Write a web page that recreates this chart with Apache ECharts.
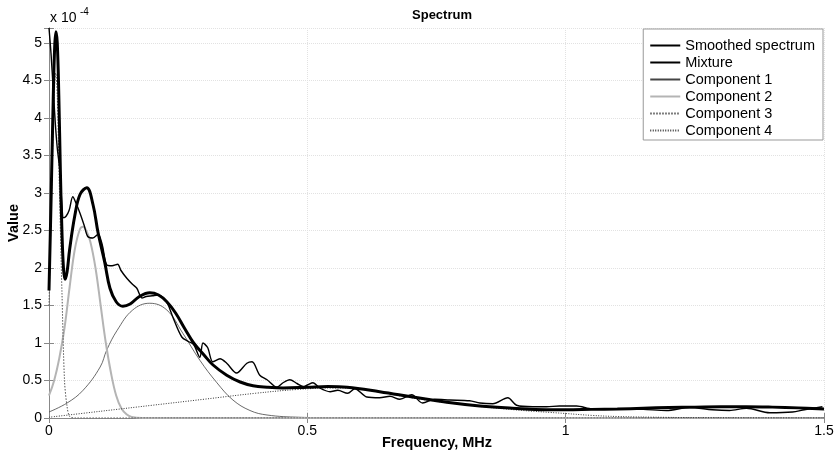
<!DOCTYPE html>
<html>
<head>
<meta charset="utf-8">
<script src="https://cdn.jsdelivr.net/npm/echarts@6/dist/echarts.min.js"></script>
<style>html,body{margin:0;padding:0;background:#fff}#c{width:840px;height:456px}</style>
</head>
<body>
<div id="c"></div>
<script>
// Values in units of 1e-4, x in MHz
const seriesNames = ['Smoothed spectrum', 'Mixture', 'Component 1', 'Component 2', 'Component 3', 'Component 4'];
const xTicks = [0, 0.5, 1, 1.5];
const yTicks = [0, 0.5, 1, 1.5, 2, 2.5, 3, 3.5, 4, 4.5, 5];

const smoothed = [[0,5.2],[0.004,4.85],[0.008,4.4],[0.012,3.95],[0.016,3.6],[0.021,3.3],[0.025,2.84],[0.028,2.67],[0.033,2.69],[0.039,2.77],[0.046,2.95],[0.052,2.87],[0.060,2.73],[0.068,2.57],[0.075,2.42],[0.085,2.40],[0.095,2.45],[0.103,2.31],[0.112,2.04],[0.122,2.03],[0.133,2.05],[0.139,1.97],[0.151,1.86],[0.162,1.78],[0.170,1.73],[0.180,1.60],[0.188,1.62],[0.200,1.63],[0.211,1.64],[0.222,1.60],[0.230,1.52],[0.240,1.34],[0.257,1.08],[0.270,1.02],[0.280,0.98],[0.292,0.81],[0.298,1.0],[0.307,0.94],[0.317,0.75],[0.331,0.79],[0.344,0.73],[0.363,0.60],[0.383,0.73],[0.393,0.75],[0.408,0.57],[0.422,0.51],[0.441,0.41],[0.453,0.47],[0.466,0.51],[0.480,0.46],[0.492,0.42],[0.500,0.44],[0.511,0.47],[0.524,0.40],[0.544,0.35],[0.559,0.37],[0.578,0.33],[0.592,0.39],[0.615,0.28],[0.640,0.27],[0.660,0.29],[0.679,0.25],[0.702,0.31],[0.723,0.20],[0.747,0.25],[0.776,0.24],[0.814,0.23],[0.834,0.20],[0.859,0.19],[0.888,0.27],[0.905,0.17],[0.936,0.15],[0.963,0.15],[0.988,0.16],[1.021,0.16],[1.052,0.12],[1.104,0.12],[1.150,0.115],[1.195,0.10],[1.240,0.14],[1.284,0.11],[1.317,0.10],[1.350,0.13],[1.395,0.07],[1.439,0.08],[1.462,0.11],[1.497,0.15]];

const mixture = [[0,1.7],[0.004,2.9],[0.008,4.2],[0.011,4.95],[0.0135,5.15],[0.016,5.0],[0.019,4.3],[0.022,3.3],[0.025,2.5],[0.028,2.0],[0.031,1.85],[0.035,1.95],[0.040,2.25],[0.050,2.7],[0.060,2.98],[0.073,3.07],[0.085,2.85],[0.095,2.47],[0.108,2.07],[0.118,1.73],[0.130,1.55],[0.143,1.49],[0.157,1.52],[0.175,1.62],[0.195,1.67],[0.212,1.64],[0.228,1.55],[0.245,1.40],[0.262,1.20],[0.280,1.0],[0.300,0.84],[0.317,0.71],[0.344,0.57],[0.370,0.48],[0.395,0.43],[0.422,0.41],[0.453,0.40],[0.500,0.41],[0.540,0.42],[0.577,0.41],[0.640,0.35],[0.704,0.28],[0.770,0.21],[0.834,0.16],[0.897,0.13],[0.963,0.11],[1.0,0.11],[1.05,0.115],[1.1,0.12],[1.15,0.13],[1.2,0.14],[1.25,0.145],[1.3,0.15],[1.35,0.15],[1.4,0.145],[1.45,0.135],[1.5,0.12]];

const comp1 = [[0,0.08],[0.035,0.2],[0.066,0.37],[0.099,0.68],[0.112,0.91],[0.132,1.17],[0.162,1.44],[0.195,1.53],[0.228,1.44],[0.259,1.13],[0.292,0.77],[0.325,0.47],[0.356,0.24],[0.389,0.10],[0.422,0.04],[0.485,0.01],[0.6,0.0],[1.5,0.0]];

const comp2 = [[0,0.3],[0.01,0.5],[0.02,0.8],[0.03,1.2],[0.04,1.75],[0.05,2.25],[0.06,2.52],[0.066,2.55],[0.072,2.5],[0.08,2.35],[0.09,2.0],[0.1,1.5],[0.11,1.0],[0.12,0.6],[0.13,0.3],[0.14,0.13],[0.15,0.05],[0.16,0.015],[0.18,0.0],[1.5,0.0]];

const comp3 = [[0,1.5],[0.005,3.0],[0.01,4.3],[0.013,4.6],[0.016,4.3],[0.02,3.1],[0.025,1.7],[0.03,0.5],[0.035,0.15],[0.04,0.02],[0.05,0.0],[1.5,0.0]];

const comp4 = [[0,0.01],[0.1,0.09],[0.2,0.17],[0.3,0.25],[0.4,0.33],[0.48,0.38],[0.55,0.40],[0.6,0.39],[0.7,0.27],[0.8,0.18],[0.9,0.11],[1.0,0.06],[1.05,0.035],[1.1,0.02],[1.2,0.008],[1.3,0.003],[1.5,0.0]];

const FONT = 'Liberation Sans, Arial, Helvetica, sans-serif';
const chart = echarts.init(document.getElementById('c'), null, {renderer: 'canvas'});

function line(name, data, color, width, type, smooth) {
  return {
    name: name, type: 'line', data: data, symbol: 'none', smooth: smooth,
    lineStyle: {color: color, width: width, type: type},
    itemStyle: {color: color},
    clip: true, animation: false
  };
}

const option = {
  animation: false,
  backgroundColor: '#fff',
  title: {
    text: 'Spectrum', left: 437, top: 4, textAlign: 'center',
    textStyle: {fontFamily: FONT, fontSize: 13, fontWeight: 'bold', color: '#000'}
  },
  grid: {left: 49, right: 16, top: 28, bottom: 38, containLabel: false, outerBoundsMode: 'none'},
  legend: {
    orient: 'vertical', right: 17, top: 29,
    data: seriesNames,
    itemWidth: 30, itemHeight: 13, itemGap: 2.0,
    padding: [9, 8, 2, 6],
    borderColor: '#999', borderWidth: 1, backgroundColor: '#fff',
    itemStyle: {opacity: 0},
    textStyle: {fontFamily: FONT, fontSize: 14.5, color: '#000', lineHeight: 13},
    selectedMode: false
  },
  xAxis: [{
    type: 'value', min: 0, max: 1.5, interval: 0.5,
    axisLine: {show: true, lineStyle: {color: '#888', width: 1}},
    axisTick: {show: true, inside: true, length: 5, lineStyle: {color: '#888'}},
    axisLabel: {fontFamily: FONT, fontSize: 14, color: '#000', margin: 6},
    splitLine: {show: true, lineStyle: {color: '#e2e2e2', type: 'dotted', width: 1}}
  }, {
    type: 'value', min: 0, max: 1.5, interval: 0.5, position: 'top',
    axisLine: {show: true, lineStyle: {color: '#888', width: 1}},
    axisTick: {show: true, inside: true, length: 5, lineStyle: {color: '#888'}},
    axisLabel: {show: false}, splitLine: {show: false}
  }],
  yAxis: [{
    type: 'value', min: 0, max: 5.2, interval: 0.5,
    axisLine: {show: true, lineStyle: {color: '#888', width: 1}},
    axisTick: {show: true, inside: true, length: 5, lineStyle: {color: '#888'}},
    axisLabel: {
      fontFamily: FONT, fontSize: 14, color: '#000', margin: 7,
      formatter: function (v) { const r = Math.round(v * 100) / 100; return yTicks.indexOf(r) >= 0 ? String(r) : ''; }
    },
    splitLine: {show: true, lineStyle: {color: '#e2e2e2', type: 'dotted', width: 1}}
  }, {
    type: 'value', min: 0, max: 5.2, interval: 0.5, position: 'right',
    axisLine: {show: true, lineStyle: {color: '#888', width: 1}},
    axisTick: {show: true, inside: true, length: 5, lineStyle: {color: '#888'}},
    axisLabel: {show: false}, splitLine: {show: false}
  }],
  graphic: [
    {type: 'text', left: 50, top: 11, style: {text: 'x 10', fontFamily: FONT, fontSize: 14, fill: '#000'}},
    {type: 'text', left: 80, top: 7, style: {text: '-4', fontFamily: FONT, fontSize: 10, fill: '#000'}},
    {type: 'text', x: 437, y: 443, style: {text: 'Frequency, MHz', fontFamily: FONT, fontSize: 14.5, fontWeight: 'bold', fill: '#000', align: 'center', verticalAlign: 'middle'}},
    {type: 'text', x: 14, y: 223, rotation: Math.PI / 2, style: {text: 'Value', fontFamily: FONT, fontSize: 14.5, fontWeight: 'bold', fill: '#000', align: 'center', verticalAlign: 'middle'}}
  ],
  series: [
    line(seriesNames[2], comp1, '#444', 0.8, 'solid', 0.4),
    line(seriesNames[3], comp2, '#b4b4b4', 2, 'solid', 0.4),
    line(seriesNames[4], comp3, '#555', 1, [1.5, 1.5], 0.3),
    line(seriesNames[5], comp4, '#333', 1, [1, 1.5], 0.4),
    line(seriesNames[0], smoothed, '#000', 1.4, 'solid', 0.3),
    line(seriesNames[1], mixture, '#000', 3, 'solid', 0.4)
  ]
};
chart.setOption(option);
</script>
</body>
</html>
